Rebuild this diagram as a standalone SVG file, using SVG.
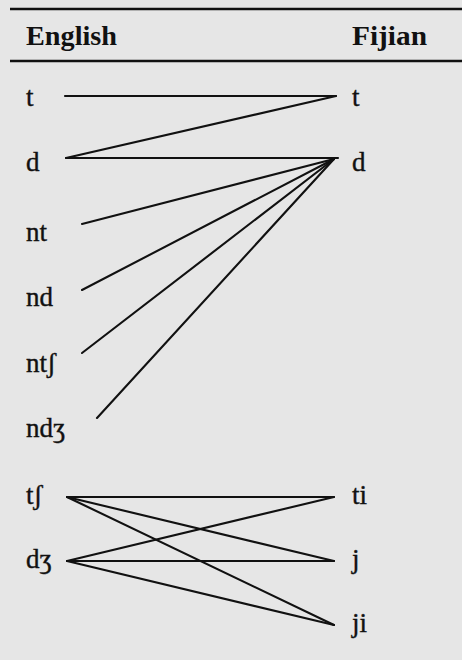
<svg xmlns="http://www.w3.org/2000/svg" width="462" height="660" viewBox="0 0 462 660">
<style>
.bg{fill:#e6e6e6}
.rule{stroke:#111;stroke-width:2.4}
.hd{font-family:"Liberation Serif",serif;font-weight:bold;font-size:27px;fill:#111}
.lb{font-family:"Liberation Serif","DejaVu Serif",serif;font-size:27px;fill:#111;stroke:#111;stroke-width:0.4}
.cn line{stroke:#111;stroke-width:2.1;stroke-linecap:round}
</style>
<rect class="bg" x="0" y="0" width="462" height="660"/>
<line class="rule" x1="10" y1="9" x2="462" y2="9"/>
<line class="rule" x1="10" y1="61" x2="462" y2="61"/>
<g id="header-english"><text class="hd" x="26" y="45" textLength="91" lengthAdjust="spacingAndGlyphs">English</text></g>
<g id="header-fijian"><text class="hd" x="352" y="45" textLength="75" lengthAdjust="spacingAndGlyphs">Fijian</text></g>
<g id="en-t"><text class="lb" x="26" y="106">t</text></g>
<g id="en-d"><text class="lb" x="26" y="171">d</text></g>
<g id="en-nt"><text class="lb" x="26" y="241">nt</text></g>
<g id="en-nd"><text class="lb" x="26" y="306">nd</text></g>
<g id="en-ntsh"><text class="lb" x="26" y="372">ntʃ</text></g>
<g id="en-ndzh"><text class="lb" x="26" y="437">ndʒ</text></g>
<g id="en-tsh"><text class="lb" x="26" y="504">tʃ</text></g>
<g id="en-dzh"><text class="lb" x="26" y="568">dʒ</text></g>
<g id="fj-t"><text class="lb" x="352" y="106">t</text></g>
<g id="fj-d"><text class="lb" x="352" y="171">d</text></g>
<g id="fj-ti"><text class="lb" x="352" y="504">ti</text></g>
<g id="fj-j"><text class="lb" x="352" y="568">j</text></g>
<g id="fj-ji"><text class="lb" x="352" y="632">ji</text></g>
<g id="connectors" class="cn">
<line x1="65" y1="96" x2="336" y2="96"/>
<line x1="336" y1="96" x2="66" y2="158"/>
<line x1="66" y1="158" x2="338" y2="158"/>
<line x1="82" y1="224" x2="334" y2="159"/>
<line x1="82" y1="290" x2="334" y2="159"/>
<line x1="82" y1="353" x2="334" y2="159"/>
<line x1="97" y1="418" x2="334" y2="159"/>
<line x1="67" y1="497" x2="334" y2="497"/>
<line x1="67" y1="497" x2="334" y2="561"/>
<line x1="67" y1="497" x2="334" y2="625"/>
<line x1="67" y1="561" x2="334" y2="497"/>
<line x1="67" y1="561" x2="334" y2="561"/>
<line x1="67" y1="561" x2="334" y2="625"/>
</g>
</svg>
